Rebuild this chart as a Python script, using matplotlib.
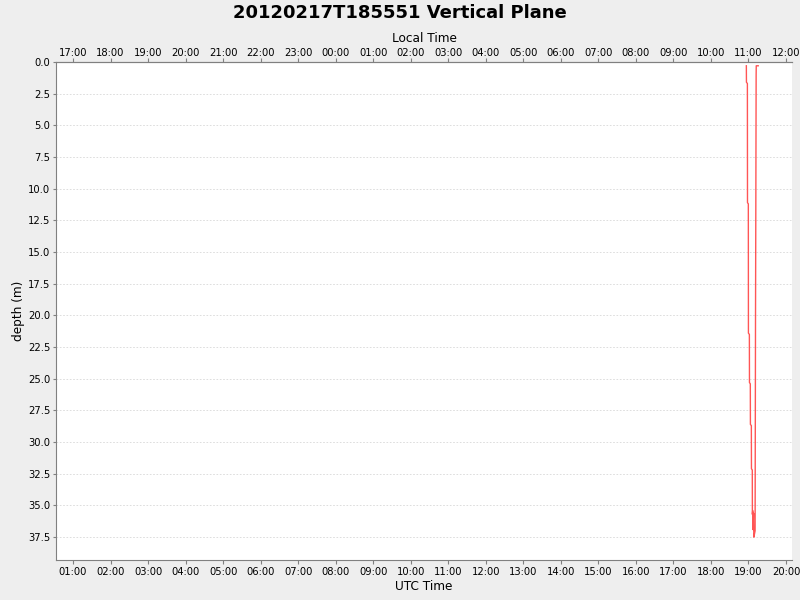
import datetime as dt

import matplotlib
matplotlib.use("Agg")
import matplotlib.dates as mdates
import matplotlib.pyplot as plt

# profile samples (UTC time, depth in m)
utc_times = [
    "18:56:40", "18:56:50", "18:58:20", "18:58:30", "18:59:50", "19:00:00",
    "19:01:30", "19:01:40", "19:03:00", "19:03:10", "19:04:40", "19:04:50",
    "19:06:10", "19:06:20", "19:06:50", "19:07:20", "19:08:10", "19:08:40",
    "19:10:40", "19:11:20", "19:11:50", "19:12:20", "19:12:30", "19:15:40",
]
depths = [
    0.3, 1.6, 1.7, 11.1, 11.2, 21.4,
    21.5, 25.3, 25.4, 28.6, 28.7, 32.1,
    32.2, 35.7, 35.4, 36.9, 35.6, 37.5,
    37.0, 20.0, 11.3, 1.0, 0.3, 0.3,
]
day = "2012-02-17"
local_offset_h = -8
x_start = "00:32:50"
x_end = "20:09:40"
depth_ticks = [i * 2.5 for i in range(16)]
depth_max = 39.3


def to_dt(t):
    return dt.datetime.strptime(f"{day} {t}", "%Y-%m-%d %H:%M:%S")


times = [to_dt(t) for t in utc_times]

fig = plt.figure(figsize=(8, 6), dpi=100, facecolor="#EEEEEE")
ax = fig.add_axes([0.07, 0.0667, 0.92, 0.83])
ax.set_facecolor("white")

ax.plot(times, depths, color="#FF5555", linewidth=1.0)

ax.set_xlim(to_dt(x_start), to_dt(x_end))
ax.set_ylim(depth_max, 0)
ax.set_yticks(depth_ticks)
ax.set_yticklabels([f"{v:.1f}" for v in depth_ticks])
ax.yaxis.grid(True, color="#D8D8D8", linestyle=(0, (2, 2)), linewidth=0.6)

ax.xaxis.set_major_locator(mdates.HourLocator())
ax.xaxis.set_major_formatter(mdates.DateFormatter("%H:%M"))

for side in ["left", "bottom", "top", "right"]:
    ax.spines[side].set_color("#808080")
ax.spines["right"].set_visible(False)

ax.tick_params(axis="both", labelsize=7.2, colors="#808080", labelcolor="black",
               length=2, width=0.8, pad=2)
ax.tick_params(axis="x", length=3)
ax.set_xlabel("UTC Time", fontsize=8.7, labelpad=2)
ax.set_ylabel("depth (m)", fontsize=8.7, labelpad=2)

# local time axis on top
shift = dt.timedelta(hours=local_offset_h)
ax2 = ax.twiny()
ax2.set_xlim(to_dt(x_start) + shift, to_dt(x_end) + shift)
ax2.xaxis.set_major_locator(mdates.HourLocator())
ax2.xaxis.set_major_formatter(mdates.DateFormatter("%H:%M"))
for side in ["left", "bottom", "top", "right"]:
    ax2.spines[side].set_visible(False)
ax2.spines["top"].set_visible(True)
ax2.spines["top"].set_color("#808080")
ax2.tick_params(axis="x", labelsize=7.2, colors="#808080", labelcolor="black",
                length=3, width=0.8, pad=0)
ax2.set_xlabel("Local Time", fontsize=8.7, labelpad=4)

fig.suptitle("20120217T185551 Vertical Plane", fontsize=13, fontweight="bold", y=0.993)

fig.savefig("out.png", dpi=100, facecolor=fig.get_facecolor())
